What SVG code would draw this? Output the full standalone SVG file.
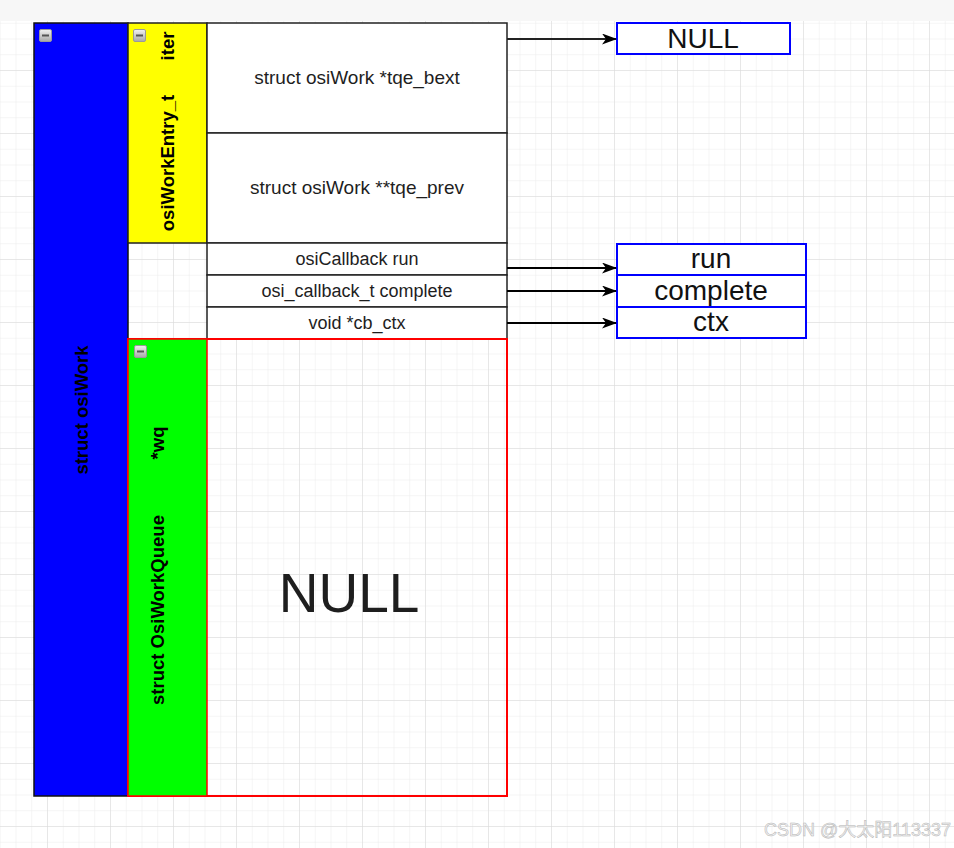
<svg xmlns="http://www.w3.org/2000/svg" width="954" height="848" viewBox="0 0 954 848">
  <defs>
    <pattern id="minor" x="47" y="7" width="15.75" height="15.75" patternUnits="userSpaceOnUse">
      <path d="M0,0 H15.75 M0,0 V15.75" stroke="#ebebeb" stroke-width="1" fill="none"/>
    </pattern>
    <pattern id="major" x="47" y="7" width="63" height="63" patternUnits="userSpaceOnUse">
      <path d="M0,0 H63 M0,0 V63" stroke="#d9d9d9" stroke-width="1" fill="none"/>
    </pattern>
    <linearGradient id="iconGrad" x1="0" y1="0" x2="0" y2="1">
      <stop offset="0" stop-color="#f2f2f2"/>
      <stop offset="1" stop-color="#a8a8a8"/>
    </linearGradient>
    <g id="collapse">
      <rect x="0.5" y="0.5" width="12" height="12" rx="1.5" fill="url(#iconGrad)" stroke="#9a9a9a" stroke-width="1"/>
      <rect x="3" y="5.5" width="7" height="2" fill="#555"/>
    </g>
    <marker id="arrow" viewBox="0 0 15 11" refX="14" refY="5.5" markerWidth="15" markerHeight="11" markerUnits="userSpaceOnUse" orient="auto">
      <path d="M0,0 L15,5.5 L0,11 L4,5.5 Z" fill="#000"/>
    </marker>
  </defs>
  <style>
    .cell { fill: #ffffff; stroke: #222; stroke-width: 1.5; }
    .lbl { font-family: "Liberation Sans", Arial, sans-serif; fill: #1e1e1e; text-anchor: middle; }
    .big { font-size: 19px; }
    .small { font-size: 18px; }
    .vert { font-family: "Liberation Sans", Arial, sans-serif; font-weight: bold; font-size: 18.5px; fill: #000; text-anchor: middle; }
    .ref { fill: #ffffff; stroke: #0000ff; stroke-width: 2; }
    .reft { font-family: "Liberation Sans", Arial, sans-serif; font-size: 28px; fill: #111; text-anchor: middle; }
    .conn { fill: none; stroke: #000; stroke-width: 2; marker-end: url(#arrow); }
  </style>

  <g id="background">
    <rect x="0" y="0" width="954" height="848" fill="#ffffff"/>
    <rect x="0" y="21" width="954" height="827" fill="url(#minor)"/>
    <rect x="0" y="21" width="954" height="827" fill="url(#major)"/>
    <rect x="0" y="0" width="954" height="21" fill="#f7f7f7"/>
  </g>

  <g id="struct-osiWork">
    <rect x="34" y="23" width="94" height="773" fill="#0000ff" stroke="#111" stroke-width="1.5"/>
    <use href="#collapse" x="39" y="29"/>
    <text class="vert" x="82" y="410" dy="0.35em" transform="rotate(-90 82 410)">struct osiWork</text>
  </g>

  <g id="iter">
    <rect x="128" y="23" width="79" height="220" fill="#ffff00" stroke="#222" stroke-width="1.5"/>
    <use href="#collapse" x="133" y="29"/>
    <text class="vert" x="168" y="163" dy="0.35em" transform="rotate(-90 168 163)">osiWorkEntry_t</text>
    <text class="vert" x="168" y="46" dy="0.35em" transform="rotate(-90 168 46)">iter</text>
  </g>

  <g id="tqe_bext">
    <rect class="cell" x="207" y="23" width="300" height="110"/>
    <text class="lbl big" x="357" y="84">struct osiWork *tqe_bext</text>
  </g>
  <g id="tqe_prev">
    <rect class="cell" x="207" y="133" width="300" height="110"/>
    <text class="lbl big" x="357" y="194">struct osiWork **tqe_prev</text>
  </g>
  <g id="run">
    <rect class="cell" x="207" y="243" width="300" height="32"/>
    <text class="lbl small" x="357" y="265">osiCallback run</text>
  </g>
  <g id="complete">
    <rect class="cell" x="207" y="275" width="300" height="32"/>
    <text class="lbl small" x="357" y="297">osi_callback_t complete</text>
  </g>
  <g id="cb_ctx">
    <rect class="cell" x="207" y="307" width="300" height="32"/>
    <text class="lbl small" x="357" y="329">void *cb_ctx</text>
  </g>

  <g id="wq">
    <rect x="128" y="339" width="379" height="457" fill="none" stroke="#ff0000" stroke-width="2"/>
    <rect x="128" y="339" width="79" height="457" fill="#00ff00" stroke="#ff0000" stroke-width="1.5"/>
    <use href="#collapse" x="134" y="345"/>
    <text class="vert" x="158" y="610" dy="0.35em" transform="rotate(-90 158 610)">struct OsiWorkQueue</text>
    <text class="vert" x="158" y="443" dy="0.35em" transform="rotate(-90 158 443)">*wq</text>
    <text class="lbl" x="349" y="612" font-size="55" fill="#000">NULL</text>
  </g>

  <g id="null-ref">
    <rect class="ref" x="617" y="23" width="173" height="31"/>
    <text class="reft" x="703" y="48">NULL</text>
  </g>
  <g id="run-ref">
    <rect class="ref" x="617" y="244" width="189" height="31"/>
    <text class="reft" x="711" y="268">run</text>
  </g>
  <g id="complete-ref">
    <rect class="ref" x="617" y="275" width="189" height="32"/>
    <text class="reft" x="711" y="300">complete</text>
  </g>
  <g id="ctx-ref">
    <rect class="ref" x="617" y="307" width="189" height="31"/>
    <text class="reft" x="711" y="331">ctx</text>
  </g>

  <g id="connectors">
    <path class="conn" d="M507,39 H616" stroke-width="1.5" style="stroke:#222"/>
    <path class="conn" d="M507,268 H616"/>
    <path class="conn" d="M507,291 H616"/>
    <path class="conn" d="M507,323 H616"/>
  </g>

  <g id="watermark">
    <text x="951" y="836" text-anchor="end" font-family="'Liberation Sans', 'Noto Sans CJK SC', sans-serif" font-size="18" fill="#f2f2f2" stroke="#b4b4b4" stroke-width="0.5">CSDN @大太阳113337</text>
  </g>
</svg>
